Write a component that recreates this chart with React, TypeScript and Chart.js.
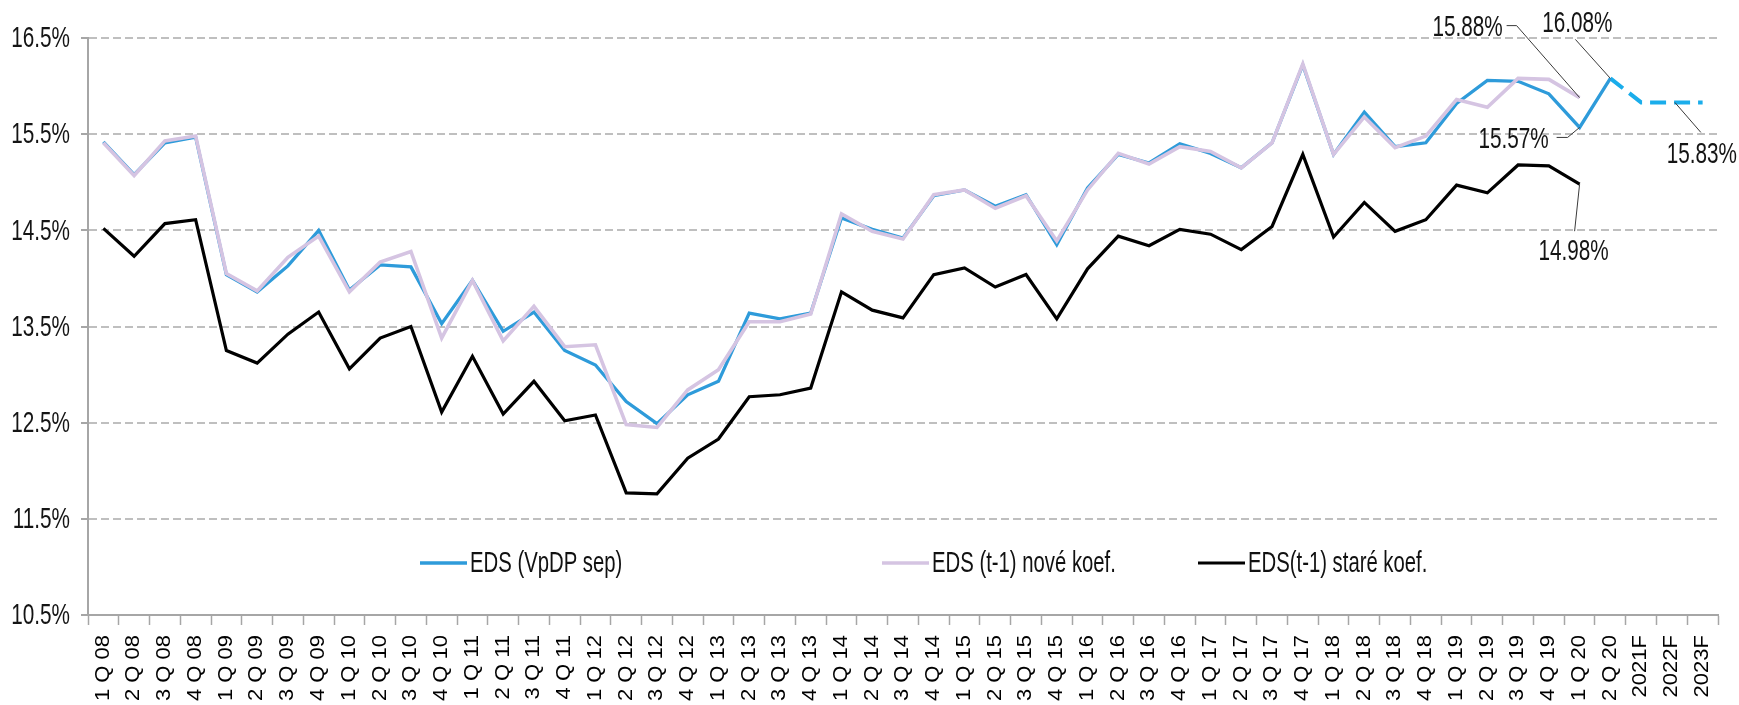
import React, { useEffect, useRef } from 'react';
import { Chart, registerables } from 'chart.js';

Chart.register(...registerables);

const categories = [
  '1 Q 08', '2 Q 08', '3 Q 08', '4 Q 08',
  '1 Q 09', '2 Q 09', '3 Q 09', '4 Q 09',
  '1 Q 10', '2 Q 10', '3 Q 10', '4 Q 10',
  '1 Q 11', '2 Q 11', '3 Q 11', '4 Q 11',
  '1 Q 12', '2 Q 12', '3 Q 12', '4 Q 12',
  '1 Q 13', '2 Q 13', '3 Q 13', '4 Q 13',
  '1 Q 14', '2 Q 14', '3 Q 14', '4 Q 14',
  '1 Q 15', '2 Q 15', '3 Q 15', '4 Q 15',
  '1 Q 16', '2 Q 16', '3 Q 16', '4 Q 16',
  '1 Q 17', '2 Q 17', '3 Q 17', '4 Q 17',
  '1 Q 18', '2 Q 18', '3 Q 18', '4 Q 18',
  '1 Q 19', '2 Q 19', '3 Q 19', '4 Q 19',
  '1 Q 20', '2 Q 20', '2021F', '2022F', '2023F',
];

// EDS (VpDP sep) – 1 Q 08 .. 2 Q 20
const edsVpdp = [
  15.42, 15.08, 15.41, 15.47,
  14.04, 13.86, 14.13, 14.50,
  13.88, 14.14, 14.12, 13.53,
  13.98, 13.45, 13.65, 13.25,
  13.10, 12.72, 12.49, 12.79,
  12.93, 13.64, 13.58, 13.64,
  14.63, 14.51, 14.42, 14.86,
  14.92, 14.75, 14.87, 14.35,
  14.94, 15.29, 15.20, 15.40,
  15.30, 15.15, 15.41, 16.22,
  15.29, 15.73, 15.37, 15.41,
  15.82, 16.06, 16.05, 15.92,
  15.57, 16.08,
];

// Forecast of EDS (VpDP sep): 2 Q 20, 2021F, 2022F, 2023F
const edsForecast = [16.08, 15.83, 15.83, 15.83];

// EDS (t-1) nové koef. – 1 Q 08 .. 1 Q 20
const edsNove = [
  15.41, 15.07, 15.43, 15.48,
  14.05, 13.87, 14.22, 14.44,
  13.86, 14.17, 14.28, 13.38,
  13.98, 13.35, 13.71, 13.29,
  13.31, 12.48, 12.45, 12.84,
  13.05, 13.55, 13.55, 13.63,
  14.67, 14.49, 14.41, 14.87,
  14.92, 14.73, 14.86, 14.39,
  14.92, 15.30, 15.19, 15.37,
  15.32, 15.15, 15.41, 16.23,
  15.29, 15.68, 15.36, 15.48,
  15.86, 15.78, 16.08, 16.07,
  15.88,
];

// EDS(t-1) staré koef. – 1 Q 08 .. 1 Q 20
const edsStare = [
  14.52, 14.23, 14.57, 14.61,
  13.25, 13.12, 13.42, 13.65,
  13.06, 13.38, 13.50, 12.61,
  13.19, 12.59, 12.93, 12.52,
  12.58, 11.77, 11.76, 12.13,
  12.33, 12.77, 12.79, 12.86,
  13.86, 13.67, 13.59, 14.04,
  14.11, 13.91, 14.04, 13.58,
  14.10, 14.44, 14.34, 14.51,
  14.46, 14.30, 14.54, 15.29,
  14.43, 14.79, 14.49, 14.61,
  14.97, 14.89, 15.18, 15.17,
  14.98,
];

const yTickValues = [10.5, 11.5, 12.5, 13.5, 14.5, 15.5, 16.5];

const seriesNames = ['EDS (VpDP sep)', 'EDS (t-1) nové koef.', 'EDS(t-1) staré koef.'];

const FONT = '"Liberation Sans", Arial, sans-serif';
const SQUEEZE = 0.69;

const COLOR_BLUE = '#2E9BDA';
const COLOR_FORECAST = '#1AADEB';
const COLOR_LAVENDER = '#D5C4E2';
const COLOR_BLACK = '#000000';

function pad(arr: (number | null)[], start: number): (number | null)[] {
  const out: (number | null)[] = new Array(categories.length).fill(null);
  arr.forEach((v, i) => { out[start + i] = v; });
  return out;
}

function narrowText(ctx: any, text: string, x: number, y: number, align: string, sx: number) {
  ctx.save();
  ctx.translate(x, y);
  ctx.scale(sx, 1);
  ctx.textAlign = align;
  ctx.fillText(text, 0, 0);
  ctx.restore();
}

const axisTextPlugin = {
  id: 'axisText',
  afterDraw(chart: any) {
    const { ctx, chartArea } = chart;
    const xs = chart.scales.x;
    const ys = chart.scales.y;
    ctx.save();
    // y labels
    ctx.font = `30px ${FONT}`;
    ctx.fillStyle = '#141414';
    ctx.textBaseline = 'middle';
    yTickValues.forEach((v) => {
      const py = ys.getPixelForValue(v);
      narrowText(ctx, `${v.toFixed(1)}%`, chartArea.left - 18, py + 1, 'right', SQUEEZE);
    });
    // x labels (rotated, reading bottom to top)
    ctx.font = `22px ${FONT}`;
    ctx.fillStyle = '#000000';
    ctx.textBaseline = 'middle';
    categories.forEach((c, i) => {
      const px = xs.getPixelForValue(i);
      ctx.save();
      ctx.translate(px, chartArea.bottom + 20);
      ctx.rotate(-Math.PI / 2);
      ctx.scale(1, 0.88);
      ctx.textAlign = 'right';
      ctx.fillText(c, 0, 0);
      ctx.restore();
    });
    ctx.restore();
  },
};

const legendPlugin = {
  id: 'customLegend',
  afterDraw(chart: any) {
    const { ctx, chartArea } = chart;
    const items = [
      { ds: 0, x: 332 },
      { ds: 2, x: 794 },
      { ds: 3, x: 1110 },
    ];
    const y = chartArea.bottom - 52;
    ctx.save();
    ctx.font = `29px ${FONT}`;
    ctx.textBaseline = 'middle';
    items.forEach((it) => {
      const d = chart.data.datasets[it.ds];
      const x0 = chartArea.left + it.x;
      ctx.strokeStyle = d.borderColor;
      ctx.lineWidth = d.borderWidth;
      ctx.setLineDash([]);
      ctx.beginPath();
      ctx.moveTo(x0, y);
      ctx.lineTo(x0 + 47, y);
      ctx.stroke();
      ctx.fillStyle = '#111111';
      narrowText(ctx, d.label, x0 + 50, y + 1, 'left', 0.70);
    });
    ctx.restore();
  },
};

const annotationPlugin = {
  id: 'valueLabels',
  afterDraw(chart: any) {
    const { ctx } = chart;
    const xs = chart.scales.x;
    const ys = chart.scales.y;
    const specs = [
      { ds: 2, i: 48, tx: -77, ty: -70, align: 'right', path: [[-73, -72], [-63, -72], [0, 0]] },
      { ds: 0, i: 49, tx: -33, ty: -55, align: 'center', path: [[-35, -39], [0, 0]] },
      { ds: 0, i: 48, tx: -31, ty: 12, align: 'right', path: [[-23, 10], [-12, 10], [0, 0]] },
      { ds: 1, i: 51, tx: 30, ty: 52, align: 'center', path: [[3, 0], [29, 30]] },
      { ds: 3, i: 48, tx: -6, ty: 68, align: 'center', path: [[0, 0], [-5, 47]] },
    ];
    ctx.save();
    ctx.font = `30px ${FONT}`;
    ctx.textBaseline = 'middle';
    specs.forEach((s) => {
      const v = chart.data.datasets[s.ds].data[s.i];
      if (v == null) return;
      const px = xs.getPixelForValue(s.i);
      const py = ys.getPixelForValue(v);
      ctx.strokeStyle = '#3a3a3a';
      ctx.lineWidth = 1;
      ctx.setLineDash([]);
      ctx.beginPath();
      s.path.forEach((p, k) => {
        if (k === 0) ctx.moveTo(px + p[0], py + p[1]);
        else ctx.lineTo(px + p[0], py + p[1]);
      });
      ctx.stroke();
      ctx.fillStyle = '#141414';
      narrowText(ctx, `${v.toFixed(2)}%`, px + s.tx, py + s.ty, s.align, SQUEEZE);
    });
    ctx.restore();
  },
};

export default function App() {
  const canvasRef = useRef<HTMLCanvasElement | null>(null);

  useEffect(() => {
    document.body.style.margin = '0';
    const canvas = canvasRef.current;
    if (!canvas) return;
    const chart = new Chart(canvas, {
      type: 'line',
      data: {
        labels: categories,
        datasets: [
          {
            label: seriesNames[0],
            data: pad(edsVpdp, 0),
            borderColor: COLOR_BLUE,
            borderWidth: 3.3,
            pointRadius: 0,
            tension: 0,
            order: 3,
          },
          {
            label: seriesNames[0] + ' F',
            data: pad(edsForecast, 49),
            borderColor: COLOR_FORECAST,
            borderWidth: 4,
            borderDash: [16, 8],
            pointRadius: 0,
            tension: 0,
            order: 4,
          },
          {
            label: seriesNames[1],
            data: pad(edsNove, 0),
            borderColor: COLOR_LAVENDER,
            borderWidth: 3.6,
            pointRadius: 0,
            tension: 0,
            order: 2,
          },
          {
            label: seriesNames[2],
            data: pad(edsStare, 0),
            borderColor: COLOR_BLACK,
            borderWidth: 3.2,
            pointRadius: 0,
            tension: 0,
            order: 1,
          },
        ],
      },
      options: {
        responsive: false,
        animation: false,
        devicePixelRatio: 1,
        layout: { padding: { top: 38, right: 21, bottom: 0, left: 0 } },
        plugins: {
          legend: { display: false },
          tooltip: { enabled: false },
        },
        scales: {
          x: {
            type: 'category',
            offset: true,
            grid: {
              display: true,
              drawOnChartArea: false,
              drawTicks: true,
              offset: true,
              tickLength: 10,
              tickColor: '#A6A6A6',
              tickWidth: 1.5,
            },
            border: { display: true, color: '#A6A6A6', width: 2 },
            ticks: { display: false, autoSkip: false },
            afterFit: (scale: any) => { scale.height = 90; },
          },
          y: {
            type: 'linear',
            min: 10.5,
            max: 16.5,
            afterBuildTicks: (scale: any) => {
              scale.ticks = yTickValues.map((v) => ({ value: v }));
            },
            grid: {
              color: '#BFBFBF',
              lineWidth: 2,
              drawTicks: true,
              tickLength: 7,
              tickColor: '#A6A6A6',
              tickWidth: 2,
            },
            border: { display: true, color: '#A6A6A6', width: 2, dash: [8, 4] },
            ticks: { display: false },
            afterFit: (scale: any) => { scale.width = 88; },
          },
        },
      },
      plugins: [axisTextPlugin, legendPlugin, annotationPlugin],
    } as any);
    return () => { chart.destroy(); };
  }, []);

  return (
    <div style={{ width: 1739, height: 705 }}>
      <canvas ref={canvasRef} width={1739} height={705} />
    </div>
  );
}
